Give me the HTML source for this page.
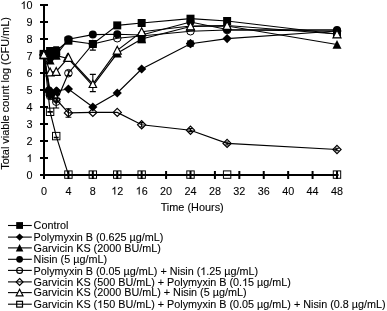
<!DOCTYPE html>
<html><head><meta charset="utf-8"><style>
html,body{margin:0;padding:0;background:#fff;width:387px;height:311px;overflow:hidden}
svg{display:block}
</style></head><body><svg width="387" height="311" viewBox="0 0 387 311" style="will-change:transform"><path d="M44 4V179" stroke="#000" stroke-width="2"/><path d="M40 175H338.59" stroke="#000" stroke-width="2"/><path d="M40 175.00H48" stroke="#000" stroke-width="2"/><path d="M40 158.00H48" stroke="#000" stroke-width="2"/><path d="M40 141.00H48" stroke="#000" stroke-width="2"/><path d="M40 124.00H48" stroke="#000" stroke-width="2"/><path d="M40 107.00H48" stroke="#000" stroke-width="2"/><path d="M40 90.00H48" stroke="#000" stroke-width="2"/><path d="M40 73.00H48" stroke="#000" stroke-width="2"/><path d="M40 56.00H48" stroke="#000" stroke-width="2"/><path d="M40 39.00H48" stroke="#000" stroke-width="2"/><path d="M40 22.00H48" stroke="#000" stroke-width="2"/><path d="M40 5.00H48" stroke="#000" stroke-width="2"/><path d="M44.00 171V179" stroke="#000" stroke-width="2"/><path d="M68.42 171V179" stroke="#000" stroke-width="2"/><path d="M92.83 171V179" stroke="#000" stroke-width="2"/><path d="M117.25 171V179" stroke="#000" stroke-width="2"/><path d="M141.66 171V179" stroke="#000" stroke-width="2"/><path d="M166.08 171V179" stroke="#000" stroke-width="2"/><path d="M190.50 171V179" stroke="#000" stroke-width="2"/><path d="M214.91 171V179" stroke="#000" stroke-width="2"/><path d="M239.33 171V179" stroke="#000" stroke-width="2"/><path d="M263.74 171V179" stroke="#000" stroke-width="2"/><path d="M288.16 171V179" stroke="#000" stroke-width="2"/><path d="M312.58 171V179" stroke="#000" stroke-width="2"/><path d="M336.99 171V179" stroke="#000" stroke-width="2"/><path d="M44.00 54.20 L50.10 51.00 L56.21 51.00 L68.42 40.70 L92.83 44.00 L117.25 25.40 L141.66 23.00 L190.50 18.70 L227.12 21.00 L336.99 34.00" fill="none" stroke="#000" stroke-width="1.15"/><path d="M44.00 54.50 L50.10 91.00 L56.21 91.00 L68.42 89.00 L92.83 107.00 L117.25 93.00 L141.66 69.00 L190.50 43.70 L227.12 38.60 L336.99 31.00" fill="none" stroke="#000" stroke-width="1.15"/><path d="M44.00 55.00 L50.10 60.30 L56.21 55.50 L68.42 58.80 L92.83 85.80 L117.25 53.30 L141.66 39.00 L190.50 26.50 L227.12 26.00 L336.99 44.50" fill="none" stroke="#000" stroke-width="1.15"/><path d="M44.00 55.00 L50.10 57.80 L56.21 55.00 L68.42 39.30 L92.83 34.60 L117.25 34.30 L141.66 35.00 L190.50 22.00 L227.12 29.50 L336.99 29.90" fill="none" stroke="#000" stroke-width="1.15"/><path d="M44.00 55.00 L50.10 96.00 L56.21 101.70 L68.42 73.20 L92.83 44.00 L117.25 38.20 L190.50 31.20 L227.12 30.00 L336.99 31.00" fill="none" stroke="#000" stroke-width="1.15"/><path d="M44.00 55.00 L50.10 95.00 L56.21 99.30 L68.42 112.90 L92.83 112.40 L117.25 112.40 L141.66 124.80 L190.50 130.20 L227.12 143.40 L336.99 149.50" fill="none" stroke="#000" stroke-width="1.15"/><path d="M44.00 54.50 L50.10 72.00 L56.21 71.50 L68.42 57.50 L92.83 84.00 L117.25 50.30 L141.66 31.80 L190.50 26.00 L227.12 25.50 L336.99 34.00" fill="none" stroke="#000" stroke-width="1.15"/><path d="M44.00 55.00 L50.10 111.80 L56.21 136.10 L68.42 174.60 L92.83 174.60 L117.25 174.60 L141.66 174.60 L190.50 174.60 L227.12 174.60 L336.99 174.60" fill="none" stroke="#000" stroke-width="1.15"/><path d="M92.83 44.00V50.10M89.83 44.00H95.83M89.83 50.10H95.83" stroke="#000" stroke-width="1.1" fill="none"/><path d="M92.83 74.40V91.60M89.83 74.40H95.83M89.83 91.60H95.83" stroke="#000" stroke-width="1.1" fill="none"/><path d="M56.21 46.80V55.00M53.21 46.80H59.21M53.21 55.00H59.21" stroke="#000" stroke-width="1.1" fill="none"/><path d="M56.21 101.70V108.00M53.21 101.70H59.21M53.21 108.00H59.21" stroke="#000" stroke-width="1.1" fill="none"/><path d="M68.42 108.70V117.30M65.52 108.70H71.32M65.52 117.30H71.32" stroke="#000" stroke-width="1.1" fill="none"/><path d="M50.10 111.60V112.20M47.35 111.60H52.85M47.35 112.20H52.85" stroke="#000" stroke-width="1.1" fill="none"/><path d="M56.21 137.40V137.80M53.71 137.40H58.71M53.71 137.80H58.71" stroke="#000" stroke-width="1.1" fill="none"/><path d="M141.66 122.60V127.00M139.36 122.60H143.96M139.36 127.00H143.96" stroke="#000" stroke-width="1.1" fill="none"/><path d="M190.50 128.60V131.60M188.30 128.60H192.70M188.30 131.60H192.70" stroke="#000" stroke-width="1.1" fill="none"/><path d="M227.12 142.00V145.00M224.92 142.00H229.32M224.92 145.00H229.32" stroke="#000" stroke-width="1.1" fill="none"/><path d="M336.99 148.20V150.80M334.99 148.20H338.99M334.99 150.80H338.99" stroke="#000" stroke-width="1.1" fill="none"/><path d="M68.62 70.70V75.60M66.32 70.70H70.92M66.32 75.60H70.92" stroke="#000" stroke-width="1.1" fill="none"/><rect x="40.00" y="50.20" width="8.00" height="8.00" fill="#000"/><rect x="46.10" y="47.00" width="8.00" height="8.00" fill="#000"/><rect x="52.21" y="47.00" width="8.00" height="8.00" fill="#000"/><rect x="64.42" y="36.70" width="8.00" height="8.00" fill="#000"/><rect x="88.83" y="40.00" width="8.00" height="8.00" fill="#000"/><rect x="113.25" y="21.40" width="8.00" height="8.00" fill="#000"/><rect x="137.66" y="19.00" width="8.00" height="8.00" fill="#000"/><rect x="186.50" y="14.70" width="8.00" height="8.00" fill="#000"/><rect x="223.12" y="17.00" width="8.00" height="8.00" fill="#000"/><rect x="332.99" y="30.00" width="8.00" height="8.00" fill="#000"/><path d="M44.00 49.90L48.60 54.50L44.00 59.10L39.40 54.50Z" fill="#000"/><path d="M50.10 86.40L54.70 91.00L50.10 95.60L45.50 91.00Z" fill="#000"/><path d="M56.21 86.40L60.81 91.00L56.21 95.60L51.61 91.00Z" fill="#000"/><path d="M68.42 84.40L73.02 89.00L68.42 93.60L63.82 89.00Z" fill="#000"/><path d="M92.83 102.40L97.43 107.00L92.83 111.60L88.23 107.00Z" fill="#000"/><path d="M117.25 88.40L121.85 93.00L117.25 97.60L112.65 93.00Z" fill="#000"/><path d="M141.66 64.40L146.26 69.00L141.66 73.60L137.06 69.00Z" fill="#000"/><path d="M190.50 39.10L195.10 43.70L190.50 48.30L185.90 43.70Z" fill="#000"/><path d="M227.12 34.00L231.72 38.60L227.12 43.20L222.52 38.60Z" fill="#000"/><path d="M336.99 26.40L341.59 31.00L336.99 35.60L332.39 31.00Z" fill="#000"/><path d="M44.00 50.50L48.50 59.27L39.50 59.27Z" fill="#000"/><path d="M50.10 55.80L54.60 64.58L45.60 64.58Z" fill="#000"/><path d="M56.21 51.00L60.71 59.77L51.71 59.77Z" fill="#000"/><path d="M67.52 52.40L72.32 61.76L62.72 61.76Z" fill="#000"/><path d="M92.83 80.70L96.13 87.14L89.53 87.14Z" fill="#000"/><path d="M117.25 48.80L121.75 57.57L112.75 57.57Z" fill="#000"/><path d="M141.66 34.50L146.16 43.27L137.16 43.27Z" fill="#000"/><path d="M190.50 22.00L195.00 30.77L186.00 30.77Z" fill="#000"/><path d="M227.12 21.50L231.62 30.27L222.62 30.27Z" fill="#000"/><path d="M336.99 40.00L341.49 48.77L332.49 48.77Z" fill="#000"/><circle cx="44.00" cy="55.00" r="4.00" fill="#000"/><circle cx="50.10" cy="57.80" r="4.00" fill="#000"/><circle cx="56.21" cy="55.00" r="4.00" fill="#000"/><circle cx="68.42" cy="39.30" r="4.00" fill="#000"/><circle cx="92.83" cy="34.60" r="4.00" fill="#000"/><circle cx="117.25" cy="34.30" r="4.00" fill="#000"/><circle cx="141.66" cy="35.00" r="4.00" fill="#000"/><circle cx="190.50" cy="22.00" r="4.00" fill="#000"/><circle cx="227.12" cy="29.50" r="4.00" fill="#000"/><circle cx="336.99" cy="29.90" r="4.00" fill="#000"/><circle cx="44.00" cy="55.00" r="3.80" fill="none" stroke="#000" stroke-width="1.0"/><circle cx="50.10" cy="96.00" r="3.80" fill="none" stroke="#000" stroke-width="1.0"/><circle cx="56.21" cy="101.70" r="3.80" fill="none" stroke="#000" stroke-width="1.0"/><circle cx="68.42" cy="73.20" r="3.80" fill="none" stroke="#000" stroke-width="1.0"/><circle cx="92.83" cy="44.00" r="3.80" fill="none" stroke="#000" stroke-width="1.0"/><circle cx="117.25" cy="38.20" r="3.80" fill="none" stroke="#000" stroke-width="1.0"/><circle cx="190.50" cy="31.20" r="3.80" fill="none" stroke="#000" stroke-width="1.0"/><circle cx="227.12" cy="30.00" r="3.80" fill="none" stroke="#000" stroke-width="1.0"/><circle cx="336.99" cy="31.00" r="3.80" fill="none" stroke="#000" stroke-width="1.0"/><path d="M44.00 50.90L48.10 55.00L44.00 59.10L39.90 55.00Z" fill="none" stroke="#000" stroke-width="1.2"/><path d="M50.10 90.90L54.20 95.00L50.10 99.10L46.00 95.00Z" fill="none" stroke="#000" stroke-width="1.2"/><path d="M56.21 95.20L60.31 99.30L56.21 103.40L52.11 99.30Z" fill="none" stroke="#000" stroke-width="1.2"/><path d="M68.42 108.80L72.52 112.90L68.42 117.00L64.32 112.90Z" fill="none" stroke="#000" stroke-width="1.2"/><path d="M92.83 108.30L96.93 112.40L92.83 116.50L88.73 112.40Z" fill="none" stroke="#000" stroke-width="1.2"/><path d="M117.25 108.30L121.35 112.40L117.25 116.50L113.15 112.40Z" fill="none" stroke="#000" stroke-width="1.2"/><path d="M141.66 120.70L145.76 124.80L141.66 128.90L137.56 124.80Z" fill="none" stroke="#000" stroke-width="1.2"/><path d="M190.50 126.10L194.60 130.20L190.50 134.30L186.40 130.20Z" fill="none" stroke="#000" stroke-width="1.2"/><path d="M227.12 139.30L231.22 143.40L227.12 147.50L223.02 143.40Z" fill="none" stroke="#000" stroke-width="1.2"/><path d="M336.99 145.40L341.09 149.50L336.99 153.60L332.89 149.50Z" fill="none" stroke="#000" stroke-width="1.2"/><path d="M44.00 50.50L48.00 58.30L40.00 58.30Z" fill="#fff" stroke="#000" stroke-width="1.2" stroke-linejoin="miter"/><path d="M50.10 68.00L54.10 75.80L46.10 75.80Z" fill="#fff" stroke="#000" stroke-width="1.2" stroke-linejoin="miter"/><path d="M56.21 67.50L60.21 75.30L52.21 75.30Z" fill="#fff" stroke="#000" stroke-width="1.2" stroke-linejoin="miter"/><path d="M68.42 53.50L72.42 61.30L64.42 61.30Z" fill="#fff" stroke="#000" stroke-width="1.2" stroke-linejoin="miter"/><path d="M92.83 80.30L96.53 87.52L89.13 87.52Z" fill="#fff" stroke="#000" stroke-width="1.2" stroke-linejoin="miter"/><path d="M117.25 46.30L121.25 54.10L113.25 54.10Z" fill="#fff" stroke="#000" stroke-width="1.2" stroke-linejoin="miter"/><path d="M141.66 27.80L145.66 35.60L137.66 35.60Z" fill="#fff" stroke="#000" stroke-width="1.2" stroke-linejoin="miter"/><path d="M190.50 22.00L194.50 29.80L186.50 29.80Z" fill="#fff" stroke="#000" stroke-width="1.2" stroke-linejoin="miter"/><path d="M227.12 21.50L231.12 29.30L223.12 29.30Z" fill="#fff" stroke="#000" stroke-width="1.2" stroke-linejoin="miter"/><path d="M336.99 30.00L340.99 37.80L332.99 37.80Z" fill="#fff" stroke="#000" stroke-width="1.2" stroke-linejoin="miter"/><rect x="40.30" y="51.30" width="7.40" height="7.40" fill="none" stroke="#000" stroke-width="1.0"/><rect x="46.40" y="108.10" width="7.40" height="7.40" fill="none" stroke="#000" stroke-width="1.0"/><rect x="52.51" y="132.40" width="7.40" height="7.40" fill="none" stroke="#000" stroke-width="1.0"/><rect x="64.72" y="170.90" width="7.40" height="7.40" fill="none" stroke="#000" stroke-width="1.0"/><rect x="89.13" y="170.90" width="7.40" height="7.40" fill="none" stroke="#000" stroke-width="1.0"/><rect x="113.55" y="170.90" width="7.40" height="7.40" fill="none" stroke="#000" stroke-width="1.0"/><rect x="137.96" y="170.90" width="7.40" height="7.40" fill="none" stroke="#000" stroke-width="1.0"/><rect x="186.80" y="170.90" width="7.40" height="7.40" fill="none" stroke="#000" stroke-width="1.0"/><rect x="223.42" y="170.90" width="7.40" height="7.40" fill="none" stroke="#000" stroke-width="1.0"/><rect x="333.29" y="170.90" width="7.40" height="7.40" fill="none" stroke="#000" stroke-width="1.0"/><rect x="137.76" y="35.30" width="7.80" height="7.80" fill="#000"/><circle cx="48.90" cy="90.60" r="4.00" fill="#000"/><circle cx="50.40" cy="94.50" r="4.20" fill="#000"/><circle cx="55.91" cy="94.80" r="4.20" fill="#000"/><circle cx="49.30" cy="91.60" r="4.20" fill="#000"/><path d="M50.50 87.20L54.90 91.60L50.50 96.00L46.10 91.60Z" fill="#000"/><path d="M56.81 86.40L61.21 90.80L56.81 95.20L52.41 90.80Z" fill="#000"/><path d="M54.38 97.2l1.3 -2.2l1.3 2.2z M58.04 97.2l1.2 -2.2l1.2 2.2z" fill="#fff"/><path d="M190.50 39.00L195.10 43.60L190.50 48.20L185.90 43.60Z" fill="#000"/><rect x="187.25" y="40.35" width="6.50" height="6.50" fill="#000"/><rect x="39.60" y="49.90" width="8.40" height="8.40" fill="#000"/><path d="M43.80 50.90L47.50 58.12L40.10 58.12Z" fill="#fff" stroke="#000" stroke-width="1.0" stroke-linejoin="miter"/><text x="32.6" y="179.10" text-anchor="end" style="font-family:'Liberation Sans',sans-serif;stroke:#000;stroke-width:0.1px;font-size:10.8px">0</text><text x="32.6" y="162.10" text-anchor="end" style="font-family:'Liberation Sans',sans-serif;stroke:#000;stroke-width:0.1px;font-size:10.8px"> </text><text x="32.6" y="145.10" text-anchor="end" style="font-family:'Liberation Sans',sans-serif;stroke:#000;stroke-width:0.1px;font-size:10.8px">2</text><text x="32.6" y="128.10" text-anchor="end" style="font-family:'Liberation Sans',sans-serif;stroke:#000;stroke-width:0.1px;font-size:10.8px">3</text><text x="32.6" y="111.10" text-anchor="end" style="font-family:'Liberation Sans',sans-serif;stroke:#000;stroke-width:0.1px;font-size:10.8px">4</text><text x="32.6" y="94.10" text-anchor="end" style="font-family:'Liberation Sans',sans-serif;stroke:#000;stroke-width:0.1px;font-size:10.8px">5</text><text x="32.6" y="77.10" text-anchor="end" style="font-family:'Liberation Sans',sans-serif;stroke:#000;stroke-width:0.1px;font-size:10.8px">6</text><text x="32.6" y="60.10" text-anchor="end" style="font-family:'Liberation Sans',sans-serif;stroke:#000;stroke-width:0.1px;font-size:10.8px">7</text><text x="32.6" y="43.10" text-anchor="end" style="font-family:'Liberation Sans',sans-serif;stroke:#000;stroke-width:0.1px;font-size:10.8px">8</text><text x="32.6" y="26.10" text-anchor="end" style="font-family:'Liberation Sans',sans-serif;stroke:#000;stroke-width:0.1px;font-size:10.8px">9</text><text x="32.6" y="9.10" text-anchor="end" style="font-family:'Liberation Sans',sans-serif;stroke:#000;stroke-width:0.1px;font-size:10.8px"> 0</text><text x="44.00" y="194.5" text-anchor="middle" style="font-family:'Liberation Sans',sans-serif;stroke:#000;stroke-width:0.1px;font-size:10.8px">0</text><text x="68.42" y="194.5" text-anchor="middle" style="font-family:'Liberation Sans',sans-serif;stroke:#000;stroke-width:0.1px;font-size:10.8px">4</text><text x="92.83" y="194.5" text-anchor="middle" style="font-family:'Liberation Sans',sans-serif;stroke:#000;stroke-width:0.1px;font-size:10.8px">8</text><text x="117.25" y="194.5" text-anchor="middle" style="font-family:'Liberation Sans',sans-serif;stroke:#000;stroke-width:0.1px;font-size:10.8px"> 2</text><text x="141.66" y="194.5" text-anchor="middle" style="font-family:'Liberation Sans',sans-serif;stroke:#000;stroke-width:0.1px;font-size:10.8px"> 6</text><text x="166.08" y="194.5" text-anchor="middle" style="font-family:'Liberation Sans',sans-serif;stroke:#000;stroke-width:0.1px;font-size:10.8px">20</text><text x="190.50" y="194.5" text-anchor="middle" style="font-family:'Liberation Sans',sans-serif;stroke:#000;stroke-width:0.1px;font-size:10.8px">24</text><text x="214.91" y="194.5" text-anchor="middle" style="font-family:'Liberation Sans',sans-serif;stroke:#000;stroke-width:0.1px;font-size:10.8px">28</text><text x="239.33" y="194.5" text-anchor="middle" style="font-family:'Liberation Sans',sans-serif;stroke:#000;stroke-width:0.1px;font-size:10.8px">32</text><text x="263.74" y="194.5" text-anchor="middle" style="font-family:'Liberation Sans',sans-serif;stroke:#000;stroke-width:0.1px;font-size:10.8px">36</text><text x="288.16" y="194.5" text-anchor="middle" style="font-family:'Liberation Sans',sans-serif;stroke:#000;stroke-width:0.1px;font-size:10.8px">40</text><text x="312.58" y="194.5" text-anchor="middle" style="font-family:'Liberation Sans',sans-serif;stroke:#000;stroke-width:0.1px;font-size:10.8px">44</text><text x="336.99" y="194.5" text-anchor="middle" style="font-family:'Liberation Sans',sans-serif;stroke:#000;stroke-width:0.1px;font-size:10.8px">48</text><text x="192.2" y="210.9" text-anchor="middle" style="font-family:'Liberation Sans',sans-serif;stroke:#000;stroke-width:0.1px;font-size:10.9px">Time (Hours)</text><text transform="translate(9.2,93.4) rotate(-90)" x="0" y="0" text-anchor="middle" style="font-family:'Liberation Sans',sans-serif;stroke:#000;stroke-width:0.1px;font-size:10.9px">Total viable count log (CFU/mL)</text><path d="M8 225.50H31.8" stroke="#000" stroke-width="1.1"/><rect x="16.20" y="222.10" width="6.80" height="6.80" fill="#000"/><text x="33.6" y="229.20" style="font-family:'Liberation Sans',sans-serif;stroke:#000;stroke-width:0.1px;font-size:10.8px">Control</text><path d="M8 237.10H31.8" stroke="#000" stroke-width="1.1"/><path d="M19.60 233.40L23.30 237.10L19.60 240.80L15.90 237.10Z" fill="#000"/><text x="33.6" y="240.60" style="font-family:'Liberation Sans',sans-serif;stroke:#000;stroke-width:0.1px;font-size:10.8px">Polymyxin B (0.625 µg/mL)</text><path d="M8 247.90H31.8" stroke="#000" stroke-width="1.1"/><path d="M19.60 244.10L23.40 251.51L15.80 251.51Z" fill="#000"/><text x="33.6" y="252.20" style="font-family:'Liberation Sans',sans-serif;stroke:#000;stroke-width:0.1px;font-size:10.8px">Garvicin KS (2000 BU/mL)</text><path d="M8 259.30H31.8" stroke="#000" stroke-width="1.1"/><circle cx="19.60" cy="259.30" r="3.40" fill="#000"/><text x="33.6" y="263.40" style="font-family:'Liberation Sans',sans-serif;stroke:#000;stroke-width:0.1px;font-size:10.8px">Nisin (5 µg/mL)</text><path d="M8 270.40H31.8" stroke="#000" stroke-width="1.1"/><circle cx="19.60" cy="270.40" r="2.90" fill="none" stroke="#000" stroke-width="1.2"/><text x="33.6" y="274.90" style="font-family:'Liberation Sans',sans-serif;stroke:#000;stroke-width:0.1px;font-size:10.8px">Polymyxin B (0.05 µg/mL) + Nisin ( .25 µg/mL)</text><path d="M8 281.90H31.8" stroke="#000" stroke-width="1.1"/><path d="M19.60 278.50L23.00 281.90L19.60 285.30L16.20 281.90Z" fill="none" stroke="#000" stroke-width="1.2"/><text x="33.6" y="286.10" style="font-family:'Liberation Sans',sans-serif;stroke:#000;stroke-width:0.1px;font-size:10.8px">Garvicin KS (500 BU/mL) + Polymyxin B (0. 5 µg/mL)</text><path d="M8 292.60H31.8" stroke="#000" stroke-width="1.1"/><path d="M19.60 289.20L23.00 295.83L16.20 295.83Z" fill="#fff" stroke="#000" stroke-width="1.2" stroke-linejoin="miter"/><text x="33.6" y="296.20" style="font-family:'Liberation Sans',sans-serif;stroke:#000;stroke-width:0.1px;font-size:10.8px">Garvicin KS (2000 BU/mL) + Nisin (5 µg/mL)</text><path d="M8 304.20H31.8" stroke="#000" stroke-width="1.1"/><rect x="16.70" y="301.30" width="5.80" height="5.80" fill="none" stroke="#000" stroke-width="1.2"/><text x="33.6" y="308.00" style="font-family:'Liberation Sans',sans-serif;stroke:#000;stroke-width:0.1px;font-size:10.8px">Garvicin KS ( 50 BU/mL) + Polymyxin B (0.05 µg/mL) + Nisin (0.8 µg/mL)</text><path d="M30.61 162.10L29.66 162.10L29.66 156.05Q29.32 156.38 29.04 156.54Q28.76 156.71 28.48 156.87Q28.20 157.03 27.76 157.20L27.76 156.28Q28.55 155.90 28.85 155.64Q29.15 155.37 29.45 155.10Q29.74 154.84 29.99 154.34L30.61 154.34Z" fill="#000" stroke="#000" stroke-width="0.1"/><path d="M24.61 9.10L23.66 9.10L23.66 3.05Q23.32 3.38 23.04 3.54Q22.76 3.71 22.48 3.87Q22.20 4.03 21.76 4.20L21.76 3.28Q22.55 2.90 22.85 2.64Q23.15 2.37 23.45 2.10Q23.74 1.84 23.99 1.34L24.61 1.34Z" fill="#000" stroke="#000" stroke-width="0.1"/><path d="M115.27 194.50L114.32 194.50L114.32 188.45Q113.97 188.78 113.69 188.94Q113.41 189.11 113.14 189.27Q112.86 189.43 112.41 189.60L112.41 188.68Q113.21 188.30 113.51 188.04Q113.81 187.77 114.10 187.50Q114.40 187.24 114.65 186.74L115.27 186.74Z" fill="#000" stroke="#000" stroke-width="0.1"/><path d="M139.68 194.50L138.73 194.50L138.73 188.45Q138.38 188.78 138.10 188.94Q137.82 189.11 137.55 189.27Q137.27 189.43 136.82 189.60L136.82 188.68Q137.62 188.30 137.92 188.04Q138.22 187.77 138.51 187.50Q138.81 187.24 139.06 186.74L139.68 186.74Z" fill="#000" stroke="#000" stroke-width="0.1"/><path d="M204.34 274.90L203.39 274.90L203.39 268.85Q203.05 269.18 202.77 269.34Q202.49 269.51 202.21 269.67Q201.93 269.83 201.49 270.00L201.49 269.08Q202.29 268.70 202.58 268.44Q202.88 268.17 203.18 267.90Q203.48 267.64 203.73 267.14L204.34 267.14Z" fill="#000" stroke="#000" stroke-width="0.1"/><path d="M246.12 286.10L245.17 286.10L245.17 280.05Q244.83 280.38 244.55 280.54Q244.27 280.71 243.99 280.87Q243.71 281.03 243.27 281.20L243.27 280.28Q244.07 279.90 244.36 279.64Q244.66 279.37 244.96 279.10Q245.26 278.84 245.51 278.34L246.12 278.34Z" fill="#000" stroke="#000" stroke-width="0.1"/><path d="M101.22 308.00L100.27 308.00L100.27 301.95Q99.93 302.28 99.65 302.44Q99.37 302.61 99.09 302.77Q98.81 302.93 98.36 303.10L98.36 302.18Q99.16 301.80 99.46 301.54Q99.76 301.27 100.05 301.00Q100.35 300.74 100.60 300.24L101.22 300.24Z" fill="#000" stroke="#000" stroke-width="0.1"/></svg></body></html>
